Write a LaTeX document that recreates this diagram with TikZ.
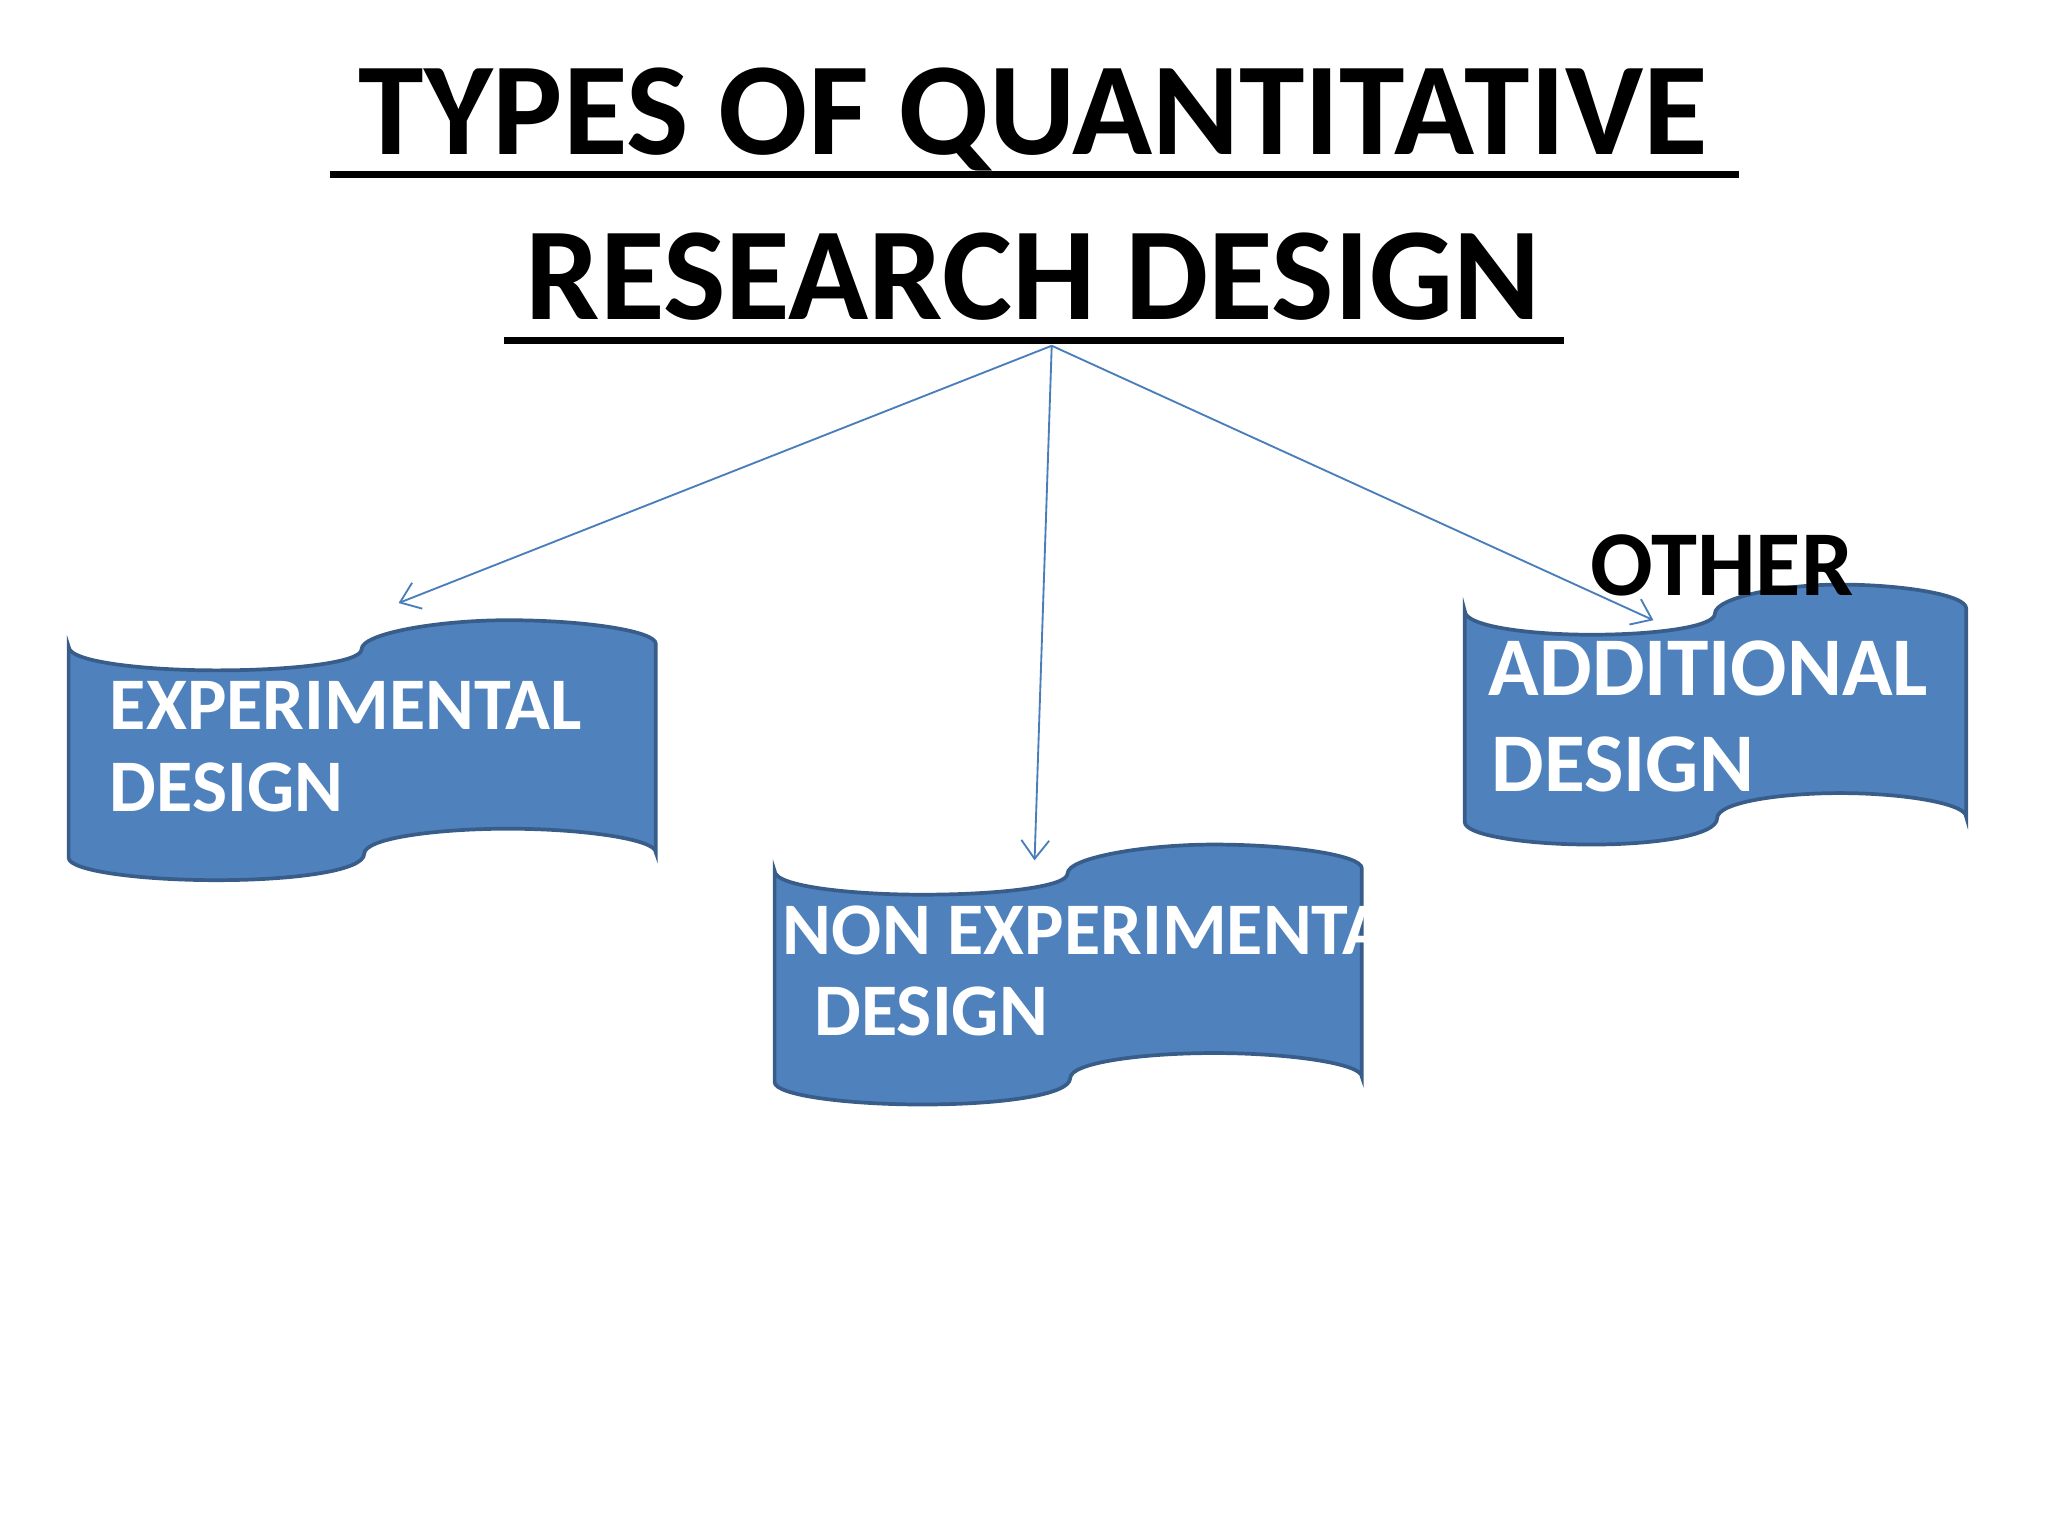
\documentclass[tikz,border=0pt]{standalone}
\usepackage{fontspec}
\setmainfont{Carlito}
\usetikzlibrary{arrows.meta}
\begin{document}
\begin{tikzpicture}[x=0.02cm,y=-0.02cm,
  flag/.style={fill={rgb,255:red,79;green,129;blue,189},draw={rgb,255:red,56;green,93;blue,138},line width=1.6pt},
  wt/.style={text=white,font=\bfseries\fontsize{32}{34}\selectfont,anchor=base west,inner sep=0},
  conn/.style={draw={rgb,255:red,74;green,126;blue,187},line width=0.8pt,-{Straight Barb[length=8pt,width=12pt]}}]
\useasboundingbox (0,0) rectangle (1552,1164);
\newcommand{\flagshape}{(0,0) .. controls (0,12) and (60,18) .. (112,18) .. controls (170,18) and (222,12) .. (222,2) .. controls (222,-10) and (280,-20) .. (333,-20) .. controls (390,-20) and (445,-12) .. (445,-2) -- (445,156) .. controls (445,146) and (390,138) .. (333,138) .. controls (280,138) and (224,145) .. (224,157) .. controls (224,170) and (170,177) .. (112,177) .. controls (55,177) and (0,170) .. (0,160) -- cycle}
\path[flag,shift={(52,490)}] \flagshape;
\path[flag,shift={(587,660)}] \flagshape;
\path[flag,shift={(1110,463)},xscale=380/445] \flagshape;
\node[inner sep=0,anchor=base,font=\bfseries\fontsize{57}{60}\selectfont] (t1) at (783,117) {TYPES OF QUANTITATIVE};
\node[inner sep=0,anchor=base,font=\bfseries\fontsize{57}{60}\selectfont] (t2) at (783,242) {RESEARCH DESIGN};
\draw[line width=3pt] (250,132) -- (1318,132);
\draw[line width=3pt] (382,258) -- (1185,258);
\coordinate (src) at (797,262);
\node[wt] (e1) at (83,553) {EXPERIMENTAL};
\node[wt] (e2) at (83,615) {DESIGN};
\node[wt] (n1) at (593,723) {NON EXPERIMENTAL};
\node[wt] (n2) at (617,785) {DESIGN};
\node[wt,font=\bfseries\fontsize{36}{38}\selectfont] (a1) at (1128,527) {ADDITIONAL};
\node[wt,font=\bfseries\fontsize{36}{38}\selectfont] (a2) at (1130,600) {DESIGN};
\node[inner sep=0,anchor=base,font=\bfseries\fontsize{40}{42}\selectfont] (oth) at (1305,451) {OTHER};
\coordinate (ea) at (302,457);
\coordinate (na) at (784,652);
\coordinate (oa) at (1253,470);
\draw[conn] (src) -- (ea);
\draw[conn] (src) -- (na);
\draw[conn] (src) -- (oa);
\end{tikzpicture}
\end{document}
